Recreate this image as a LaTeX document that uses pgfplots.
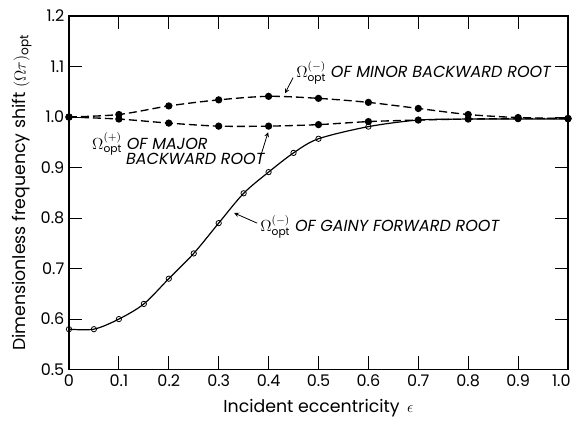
\documentclass[border=0pt]{standalone}
\usepackage{fontspec}
\setmainfont{Poppins}
\usepackage{pgfplots}
\pgfplotsset{compat=1.18}

\begin{document}
\begin{tikzpicture}[trim left=(L), trim right=(R)]
\begin{axis}[
  scale only axis, width=374pt, height=265pt,
  xmin=0, xmax=1, ymin=0.5, ymax=1.2,
  xtick={0,0.1,...,1.0}, ytick={0.5,0.6,...,1.2},
  xticklabels={0,0.1,0.2,0.3,0.4,0.5,0.6,0.7,0.8,0.9,{\hspace*{-10pt}1.0}},
  yticklabels={0.5,0.6,0.7,0.8,0.9,1.0,1.1,1.2},
  tick pos=both, tick align=inside, major tick length=10pt,
  tick style={line width=0.8pt, black},
  axis line style={line width=1pt},
  tick label style={font=\fontsize{12}{14}\selectfont},
  label style={font=\fontsize{13}{15}\selectfont},
  xlabel={Incident eccentricity \,$\epsilon$},
  ylabel={Dimensionless frequency shift $(\Omega\tau)_{\mathrm{opt}}$},
  xlabel style={yshift=-3pt},
  ylabel style={yshift=0pt},
  /pgf/number format/assume math mode=true,
]
% gainy forward root
\addplot[black, line width=0.9pt, smooth, tension=0.5, mark=o, mark size=2pt,
  mark options={fill=white, solid, line width=0.6pt}] coordinates {
(0,0.58) (0.05,0.58) (0.1,0.60) (0.15,0.63) (0.2,0.68) (0.25,0.73) (0.3,0.79)
(0.35,0.849) (0.4,0.891) (0.45,0.929) (0.5,0.957) (0.6,0.981) (0.7,0.994)
(0.8,0.996) (0.9,0.996) (1.0,0.996)};
% minor backward root
\addplot[black, line width=1pt, dash pattern=on 6pt off 3pt, smooth, tension=0.5,
  mark=*, mark size=2.2pt, mark options={solid}] coordinates {
(0,1.0) (0.1,1.005) (0.2,1.022) (0.3,1.034) (0.4,1.041) (0.5,1.037) (0.6,1.029)
(0.7,1.017) (0.8,1.005) (0.9,0.999) (1.0,0.997)};
% major backward root
\addplot[black, line width=1pt, dash pattern=on 6pt off 3pt, smooth, tension=0.5,
  mark=*, mark size=2.2pt, mark options={solid}] coordinates {
(0,1.0) (0.1,0.996) (0.2,0.988) (0.3,0.982) (0.4,0.982) (0.5,0.985) (0.6,0.991)
(0.7,0.994) (0.8,0.996) (0.9,0.997) (1.0,0.997)};
\addplot[only marks, mark=o, mark size=2pt, mark options={fill=white, line width=0.6pt}]
  coordinates {(1.0,0.996)};

\tikzset{lbl/.style={font=\fontsize{12}{14}\selectfont\itshape, anchor=west, inner sep=0pt}}
\node[lbl] at (axis cs:0.455,1.087) {$\Omega^{(-)}_{\mathrm{opt}}$ OF MINOR BACKWARD ROOT};
\draw[-stealth, line width=0.6pt] (axis cs:0.449,1.078) -- (axis cs:0.433,1.047);
\node[lbl] at (axis cs:0.046,0.946) {$\Omega^{(+)}_{\mathrm{opt}}$ OF MAJOR};
\node[lbl] at (axis cs:0.114,0.917) {BACKWARD ROOT};
\draw[-stealth, line width=0.6pt] (axis cs:0.383,0.919) -- (axis cs:0.399,0.970);
\node[lbl] at (axis cs:0.383,0.782) {$\Omega^{(-)}_{\mathrm{opt}}$ OF GAINY FORWARD ROOT};
\draw[-stealth, line width=0.6pt] (axis cs:0.377,0.790) -- (axis cs:0.331,0.810);
\end{axis}
\coordinate (L) at ([xshift=-51.7pt]current axis.south west);
\coordinate (R) at ([xshift=4.5pt]current axis.south east);
\path ([yshift=12pt]current axis.north);
\end{tikzpicture}
\end{document}
